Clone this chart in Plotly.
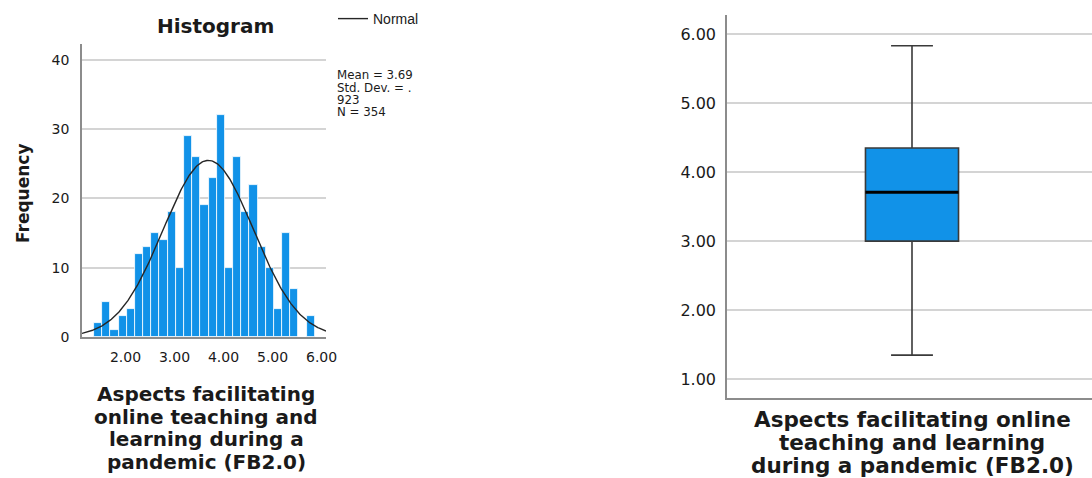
import numpy as np
import plotly.graph_objects as go

# ---------------- data ----------------
# Histogram of FB2.0 (bin counts)
bin_counts = [2, 5, 1, 3, 4, 12, 13, 15, 14, 18, 10, 29, 26, 19, 23, 32, 10, 26, 18, 22, 13, 10, 4, 15, 7, 0, 3]
BIN_START = 1.36
BIN_WIDTH = 1 / 6
MEAN = 3.69
SD = 0.923
N = 354

hist_xticks = [2, 3, 4, 5, 6]
hist_xticklabels = ["2.00", "3.00", "4.00", "5.00", "6.00"]
hist_yticks = [0, 10, 20, 30, 40]
hist_yticklabels = ["0", "10", "20", "30", "40"]

# Boxplot of FB2.0
box_lower = 1.35
box_q1 = 3.00
box_median = 3.71
box_q3 = 4.35
box_upper = 5.83
box_yticks = [1, 2, 3, 4, 5, 6]
box_yticklabels = ["1.00", "2.00", "3.00", "4.00", "5.00", "6.00"]

x_title_hist = ["Aspects facilitating", "online teaching and", "learning during a", "pandemic (FB2.0)"]
x_title_box = ["Aspects facilitating online", "teaching and learning", "during a pandemic (FB2.0)"]
stats_lines = ["Mean = 3.69", "Std. Dev. = .", "923", "N = 354"]

# ---------------- layout helpers ----------------
W, H = 1092, 478


def px(p):
    return p / W


def py(p):
    return 1 - p / H


BLUE = "#1192e8"
GRID = "#d4d4d4"
AXIS = "#8c8c8c"
TXT = "#1a1a1a"
FONT = "DejaVu Sans, Liberation Sans, Arial, sans-serif"
FONT_B = "DejaVu Sans, Arial, sans-serif"

hist_xrange = [1.113, 6.09]
hist_yrange = [0, 42.3]

fig = go.Figure()

centers = [BIN_START + BIN_WIDTH * (i + 0.5) for i in range(len(bin_counts))]
fig.add_trace(go.Bar(
    x=centers, y=bin_counts, width=BIN_WIDTH,
    marker=dict(color=BLUE, line=dict(color="white", width=0.8)),
    xaxis="x", yaxis="y", showlegend=False, hoverinfo="x+y",
))

xs = np.linspace(hist_xrange[0], hist_xrange[1], 300)
peak = N * BIN_WIDTH / (SD * np.sqrt(2 * np.pi))
ys = peak * np.exp(-0.5 * ((xs - MEAN) / SD) ** 2)
fig.add_trace(go.Scatter(
    x=xs, y=ys, mode="lines", name="Normal",
    line=dict(color="#262626", width=1.4),
    xaxis="x", yaxis="y", showlegend=True,
))

box_xrange = [-1, 0.973]
BOX_W = 0.503
fig.add_trace(go.Box(
    x=[0], q1=[box_q1], median=[box_median], q3=[box_q3],
    lowerfence=[box_lower], upperfence=[box_upper],
    width=BOX_W, whiskerwidth=0.45,
    fillcolor=BLUE, line=dict(color="#3a3a3a", width=1.6),
    boxpoints=False, xaxis="x2", yaxis="y2", showlegend=False,
))

fig.add_shape(type="line", xref="x2", yref="y2",
              x0=-BOX_W / 2, x1=BOX_W / 2, y0=box_median, y1=box_median,
              line=dict(color="black", width=3))

ann = []
ann.append(dict(text="<b>Histogram</b>", x=px(215), y=py(26), xref="paper", yref="paper",
                showarrow=False, font=dict(family=FONT_B, size=20, color=TXT),
                xanchor="center", yanchor="middle"))
ann.append(dict(text="<b>Frequency</b>", x=px(23), y=py(193), xref="paper", yref="paper",
                showarrow=False, textangle=-90, font=dict(family=FONT_B, size=17, color=TXT),
                xanchor="center", yanchor="middle"))
for i, line in enumerate(x_title_hist):
    ann.append(dict(text="<b>%s</b>" % line, x=px(206), y=py(394 + 22.6 * i), xref="paper", yref="paper",
                    showarrow=False, font=dict(family=FONT_B, size=20, color=TXT),
                    xanchor="center", yanchor="middle"))
for i, line in enumerate(x_title_box):
    ann.append(dict(text="<b>%s</b>" % line, x=px(912), y=py(419 + 23 * i), xref="paper", yref="paper",
                    showarrow=False, font=dict(family=FONT_B, size=21.5, color=TXT),
                    xanchor="center", yanchor="middle"))
for i, line in enumerate(stats_lines):
    ann.append(dict(text=line, x=px(335), y=py(75 + 12.5 * i), xref="paper", yref="paper",
                    showarrow=False, font=dict(family="DejaVu Sans, sans-serif", size=11.8, color=TXT),
                    xanchor="left", yanchor="middle"))

fig.update_layout(
    width=W, height=H,
    margin=dict(l=0, r=0, t=0, b=0, autoexpand=False),
    paper_bgcolor="white", plot_bgcolor="white",
    bargap=0,
    annotations=ann,
    legend=dict(x=px(333), y=py(19), xanchor="left", yanchor="middle",
                font=dict(family="Liberation Sans, Arial, sans-serif", size=14, color=TXT),
                bgcolor="rgba(0,0,0,0)", itemwidth=30, tracegroupgap=0),
    xaxis=dict(domain=[px(82), px(326)], range=hist_xrange, anchor="y",
               tickvals=hist_xticks, ticktext=hist_xticklabels, ticks="",
               showline=True, linecolor=AXIS, linewidth=1.5, showgrid=False, zeroline=False,
               tickfont=dict(family=FONT, size=14, color=TXT), ticklabelstandoff=6, fixedrange=True,
               automargin=False),
    yaxis=dict(domain=[py(337), py(44)], range=hist_yrange, anchor="x",
               tickvals=hist_yticks, ticktext=hist_yticklabels, ticks="",
               showline=True, linecolor=AXIS, linewidth=1.5, showgrid=True, gridcolor=GRID, gridwidth=1.6,
               zeroline=False, tickfont=dict(family=FONT, size=14, color=TXT), ticklabelstandoff=8,
               fixedrange=True, automargin=False),
    xaxis2=dict(domain=[px(727), 1.0], range=box_xrange, anchor="y2",
                showticklabels=False, ticks="", showline=True, linecolor=AXIS, linewidth=1.5,
                showgrid=False, zeroline=False, fixedrange=True, automargin=False),
    yaxis2=dict(domain=[py(398), py(15)], range=[0.729, 6.275], anchor="x2",
                tickvals=box_yticks, ticktext=box_yticklabels, ticks="",
                showline=True, linecolor=AXIS, linewidth=1.5, showgrid=True, gridcolor=GRID, gridwidth=1.6,
                zeroline=False, tickfont=dict(family=FONT, size=16, color=TXT), ticklabelstandoff=6,
                fixedrange=True, automargin=False),
)

fig.write_html(
    "out.html",
    config={"displayModeBar": False},
    post_script="document.body.style.margin='0';document.body.style.padding='0';",
)
